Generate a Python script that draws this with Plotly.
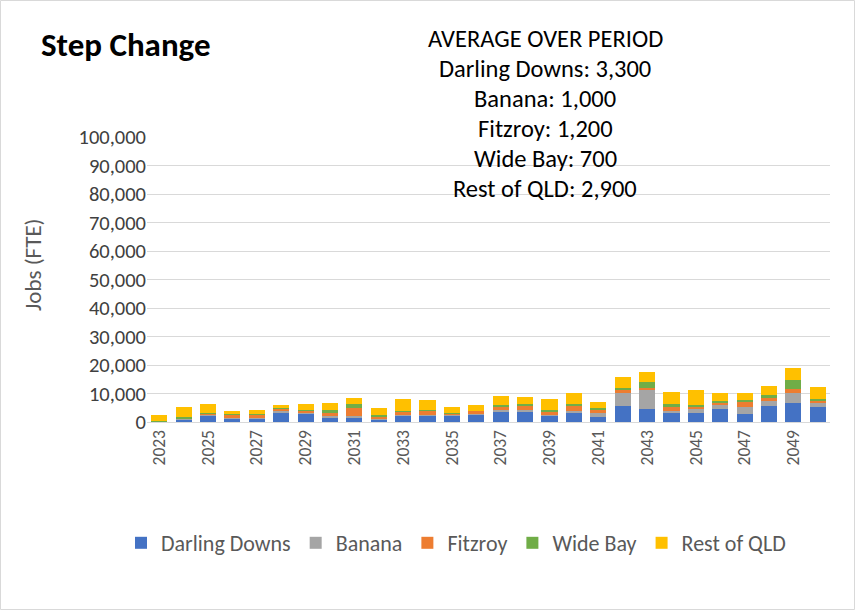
import plotly.graph_objects as go

years = [str(y) for y in range(2023, 2051)]
darling_downs = [0.1, 0.9, 2.4, 1.3, 1.3, 3.5, 3.0, 1.7, 1.6, 0.9, 2.3, 2.2, 2.2, 2.7,
                 3.8, 3.8, 2.3, 3.4, 1.6, 5.5, 4.7, 3.0, 3.3, 4.4, 2.9, 5.7, 6.8, 5.1]
banana = [0.1, 0.3, 0.2, 0.1, 0.1, 0.2, 0.4, 0.3, 0.4, 0.3, 0.3, 0.2, 0.4, 0.2,
          0.3, 0.3, 0.3, 0.4, 1.6, 4.6, 6.4, 1.0, 1.4, 1.4, 2.5, 1.7, 3.5, 1.4]
fitzroy = [0.1, 0.2, 0.3, 1.3, 1.2, 1.0, 0.6, 1.0, 3.0, 0.8, 1.0, 1.6, 0.5, 1.0,
           1.5, 1.6, 1.0, 1.7, 1.3, 1.0, 1.0, 1.4, 0.7, 1.0, 1.7, 1.0, 1.4, 1.0]
wide_bay = [0.2, 0.3, 0.1, 0.1, 0.2, 0.1, 0.1, 1.1, 1.2, 0.5, 0.4, 0.2, 0.1, 0.1,
            0.4, 0.5, 0.6, 0.9, 0.3, 1.0, 2.1, 1.0, 0.7, 0.7, 0.7, 1.0, 3.2, 0.7]
rest_of_qld = [1.9, 3.5, 3.2, 1.0, 1.4, 1.1, 2.2, 2.6, 2.2, 2.4, 3.9, 3.5, 1.9, 1.8,
               3.0, 2.4, 3.7, 3.9, 2.3, 3.6, 3.2, 4.3, 5.3, 2.8, 2.5, 3.3, 3.9, 4.2]

series = [
    ("Darling Downs", darling_downs, "#4472C4"),
    ("Banana", banana, "#A5A5A5"),
    ("Fitzroy", fitzroy, "#ED7D31"),
    ("Wide Bay", wide_bay, "#70AD47"),
    ("Rest of QLD", rest_of_qld, "#FFC000"),
]

y_ticks = list(range(0, 100001, 10000))
x_ticks = years[::2]

avg_lines = ["AVERAGE OVER PERIOD", "Darling Downs: 3,300", "Banana: 1,000",
             "Fitzroy: 1,200", "Wide Bay: 700", "Rest of QLD: 2,900"]

FONT = "Carlito, Lato, sans-serif"

fig = go.Figure()
for name, vals, color in series:
    fig.add_trace(go.Bar(x=years, y=[v * 1000 for v in vals], name=name,
                         marker=dict(color=color, line=dict(width=0))))

L, R, T, B = 147, 25, 137, 188
W, H = 855, 610
pw, ph = W - L - R, H - T - B

def px_to_paper_x(px):
    return (px - L) / pw

def px_to_paper_y(py):
    return (H - B - py) / ph

annotations = []
for i, line in enumerate(avg_lines):
    annotations.append(dict(text=line, x=px_to_paper_x(545), y=px_to_paper_y(39 + 30 * i),
                            xref="paper", yref="paper", showarrow=False,
                            xanchor="center", yanchor="middle",
                            font=dict(size=24.5, color="#000000", family=FONT)))
annotations.append(dict(text="<b>Step Change</b>", x=px_to_paper_x(39), y=px_to_paper_y(45),
                        xref="paper", yref="paper", showarrow=False,
                        xanchor="left", yanchor="middle",
                        font=dict(size=33, color="#000000", family=FONT)))
annotations.append(dict(text="Jobs (FTE)", x=px_to_paper_x(33), y=px_to_paper_y(265),
                        xref="paper", yref="paper", showarrow=False, textangle=-90,
                        xanchor="center", yanchor="middle",
                        font=dict(size=23, color="#595959", family=FONT)))

fig.update_layout(
    width=W, height=H,
    margin=dict(l=L, r=R, t=T, b=B, autoexpand=False),
    barmode="stack", bargap=0.34,
    paper_bgcolor="white", plot_bgcolor="white",
    font=dict(family=FONT),
    showlegend=True,
    legend=dict(orientation="h", x=456 / W, xanchor="center", xref="container",
                y=px_to_paper_y(543),
                yanchor="middle", font=dict(size=22, color="#595959", family=FONT),
                traceorder="normal", itemwidth=30, tracegroupgap=0),
    annotations=annotations,
    shapes=[dict(type="rect", xref="paper", yref="paper",
                 x0=px_to_paper_x(0.5), x1=px_to_paper_x(W - 0.5),
                 y0=px_to_paper_y(H - 0.5), y1=px_to_paper_y(0.5),
                 line=dict(color="#D9D9D9", width=1), layer="below")],
)
fig.update_yaxes(range=[0, 100000], tickvals=y_ticks,
                 ticktext=[f"{v:,}" for v in y_ticks],
                 showgrid=True, gridcolor="#D9D9D9", gridwidth=1,
                 zeroline=False, showline=False, ticks="",
                 tickfont=dict(size=20.5, color="#404040", family=FONT))
fig.update_xaxes(type="category", tickmode="array", tickvals=x_ticks, ticktext=x_ticks,
                 tickangle=-90, showgrid=False, showline=True, linecolor="#D9D9D9",
                 ticks="", tickfont=dict(size=17.5, color="#595959", family=FONT))

fig.write_html("out.html", config={"displayModeBar": False},
               post_script="document.body.style.margin='0';")
